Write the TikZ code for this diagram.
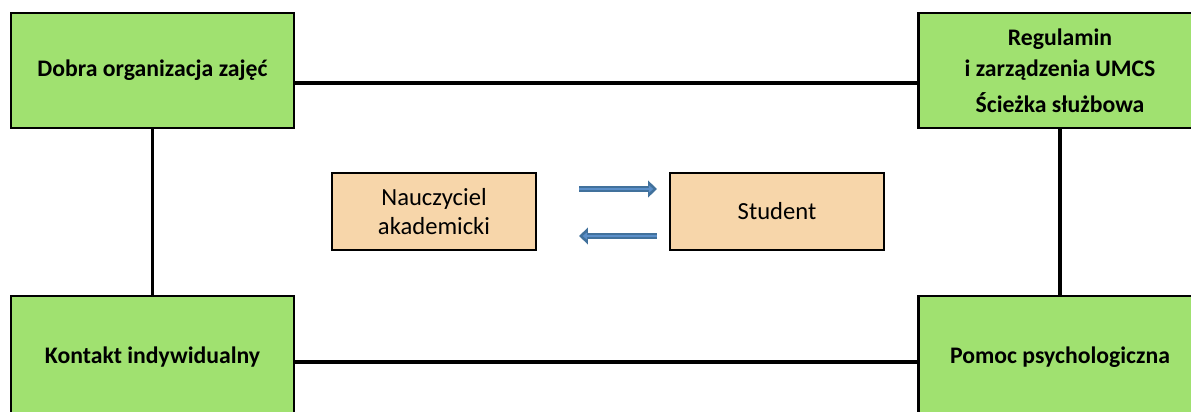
\documentclass[tikz,border=0pt]{standalone}
\usepackage{fontspec}
\setmainfont{Carlito}
\usepackage{tikz}
\usetikzlibrary{arrows.meta}

\definecolor{boxgreen}{HTML}{A0E170}
\definecolor{boxtan}{HTML}{F7D6AA}
\definecolor{arrowedge}{HTML}{41719C}
\definecolor{arrowfill}{HTML}{5B8FC9}

\tikzset{
  greenbox/.style={draw=black,line width=1.3pt,fill=boxgreen,align=center,
    font=\fontsize{13.5}{18}\selectfont\bfseries,minimum width=5.66cm,minimum height=2.3cm},
  tanbox/.style={draw=black,line width=1.3pt,fill=boxtan,align=center,
    font=\fontsize{14}{17}\selectfont,minimum height=1.54cm},
  link/.style={line width=2.2pt},
  flow/.style={line width=3.4pt,draw=arrowedge,-{Triangle[width=9.5pt,length=5pt]},
    postaction={draw=arrowfill,line width=1.3pt,shorten >=2pt,-{Triangle[width=4pt,length=2.5pt]}}}
}

\begin{document}
\begin{tikzpicture}
  \useasboundingbox (0,0) rectangle (23.82,8.22);
  \clip (0,0) rectangle (23.82,8.22);

  % outer boxes
  \node[greenbox] (org) at (3.05,6.81) {Dobra organizacja zajęć};
  \node[greenbox] (reg) at (21.2,6.81) {Regulamin\\i zarządzenia UMCS\\[2pt]Ścieżka służbowa};
  \node[greenbox,minimum height=2.44cm] (kontakt) at (3.05,1.08) {Kontakt indywidualny};
  \node[greenbox,minimum height=2.44cm] (pomoc) at (21.2,1.08) {Pomoc psychologiczna};

  % middle
  \node[tanbox,minimum width=4.08cm] (naucz) at (8.68,3.99) {Nauczyciel\\akademicki};
  \node[tanbox,minimum width=4.28cm] (student) at (15.54,3.99) {Student};

  % frame lines
  \draw[link] ([yshift=-0.25cm]org.east) -- ([yshift=-0.25cm]reg.west);
  \draw[link] ([yshift=-0.1cm]kontakt.east) -- ([yshift=-0.1cm]pomoc.west);
  \draw[link] (org.south) -- (kontakt.north);
  \draw[link] (reg.south) -- (pomoc.north);

  % arrows
  \draw[flow] ([xshift=0.84cm,yshift=0.45cm]naucz.east) -- ([xshift=-0.24cm,yshift=0.45cm]student.west);
  \draw[flow] ([xshift=-0.24cm,yshift=-0.49cm]student.west) -- ([xshift=0.84cm,yshift=-0.49cm]naucz.east);
\end{tikzpicture}
\end{document}
